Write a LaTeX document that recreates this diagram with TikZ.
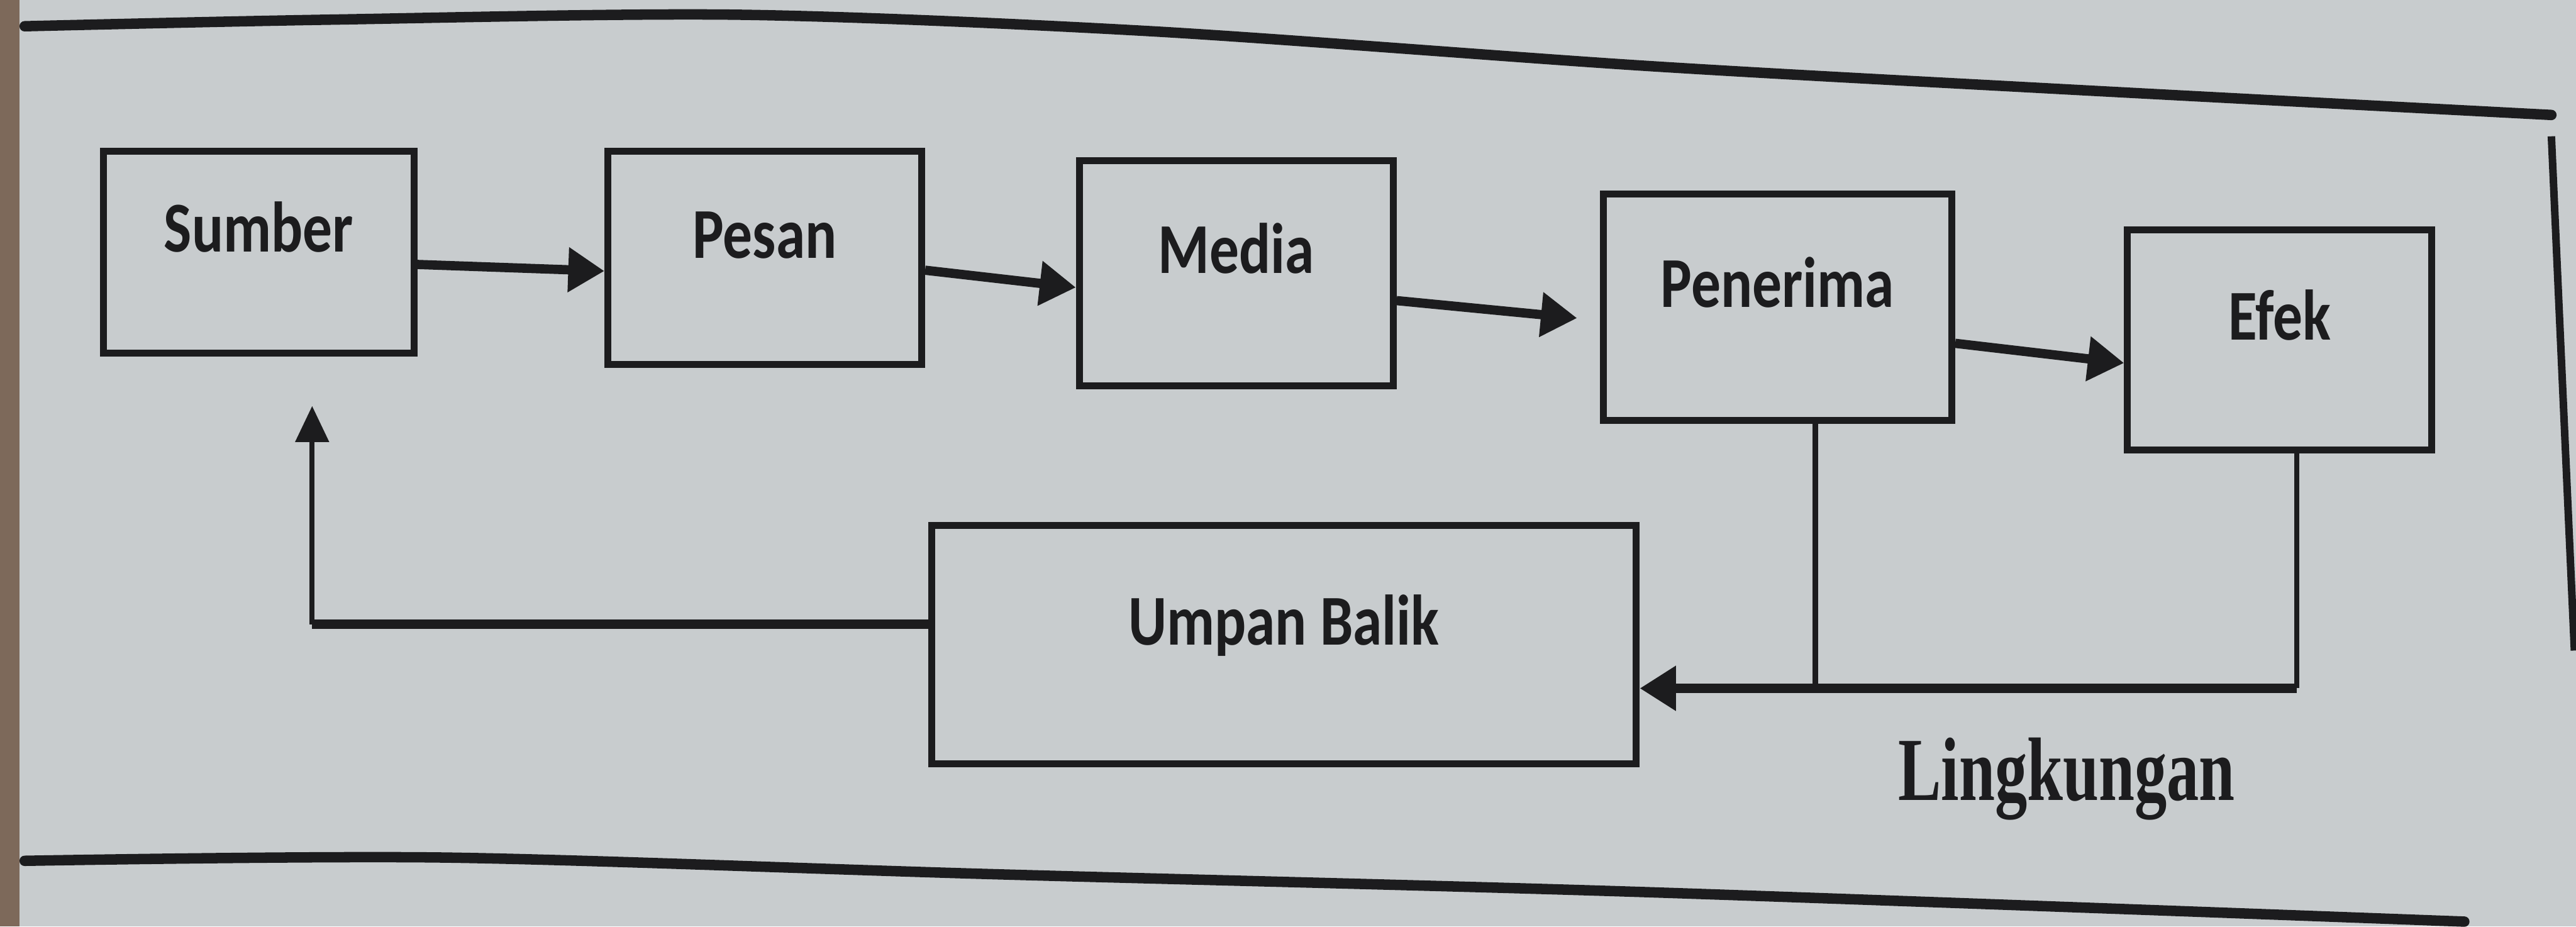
\documentclass[tikz,border=0pt]{standalone}
\usepackage{fontspec}
\setmainfont{Carlito}
\newfontfamily\serifb{Liberation Serif}
\usetikzlibrary{arrows.meta}
\definecolor{paper}{RGB}{200,204,206}
\definecolor{ink}{RGB}{28,28,30}
\definecolor{edgecol}{RGB}{125,105,90}
\newcommand{\tallbox}[1]{\scalebox{0.97}[1.18]{#1}}
\begin{document}
\begin{tikzpicture}[x=1cm,y=1cm,
  box/.style={draw=ink, line width=1.2pt, text=ink,
    font=\fontsize{10.5}{12}\selectfont\bfseries,
    text height=0.3cm, text depth=0.3cm, inner sep=0pt},
  flow/.style={-{Triangle[length=0.22cm,width=0.26cm]}, line width=1.6pt, draw=ink},
  thinline/.style={line width=0.9pt, draw=ink},
  frameline/.style={line width=1.8pt, draw=ink, line cap=round}]
\fill[paper] (0,0) rectangle (15.68,5.64);
\fill[edgecol] (0,0) rectangle (0.12,5.64);
\useasboundingbox (0,0) rectangle (15.68,5.64);

% frame (photographed, slightly curved)
\draw[frameline] plot[smooth] coordinates {(0.15,5.48) (2.0,5.52) (4.5,5.55) (7.0,5.45) (10.0,5.24) (12.5,5.10) (15.53,4.94)};
\draw[frameline] plot[smooth] coordinates {(0.15,0.40) (2.7,0.42) (6.0,0.32) (10.0,0.21) (15.0,0.03)};
\draw[line width=1.3pt, draw=ink] (15.53,4.81) -- (15.67,1.68);

% boxes
\node[box, minimum width=1.89cm, minimum height=1.23cm] (sumber) at (1.575,4.105) {\tallbox{Sumber}};
\node[box, minimum width=1.91cm, minimum height=1.30cm] (pesan) at (4.655,4.07) {\tallbox{Pesan}};
\node[box, minimum width=1.91cm, minimum height=1.37cm] (media) at (7.525,3.975) {\tallbox{Media}};
\node[box, minimum width=2.12cm, minimum height=1.38cm] (penerima) at (10.82,3.77) {\tallbox{Penerima}};
\node[box, minimum width=1.85cm, minimum height=1.34cm] (efek) at (13.875,3.57) {\tallbox{Efek}};
\node[box, minimum width=4.29cm, minimum height=1.45cm] (umpan) at (7.815,1.715) {\tallbox{Umpan Balik}};

\node[text=ink, font=\serifb\fontsize{12}{14}\selectfont\bfseries] (ling) at (12.58,0.90) {\scalebox{0.93}[1.3]{Lingkungan}};

% forward flow
\draw[flow] ([yshift=-0.075cm]sumber.east) -- ([yshift=-0.08cm]pesan.west);
\draw[flow] ([yshift=-0.075cm]pesan.east) -- ([yshift=-0.085cm]media.west);
\draw[flow, shorten >=0.14cm] ([yshift=-0.165cm]media.east) -- ([yshift=-0.08cm]penerima.west);
\draw[flow] ([yshift=-0.22cm]penerima.east) -- ([yshift=-0.14cm]efek.west);

% feedback
\coordinate (fe) at (13.98,1.45);
\coordinate (fp) at (11.05,1.45);
\coordinate (fs) at (1.90,1.84);
\draw[thinline] (efek.south -| fe) -- (fe);
\draw[thinline] (penerima.south -| fp) -- (fp);
\draw[flow] (fe) -- (fe -| umpan.east);
\draw[line width=1.6pt, draw=ink] (umpan.west |- fs) -- (fs);
\draw[-{Triangle[length=0.22cm,width=0.2cm]}, thinline, shorten >=0.3cm] (fs) -- (sumber.south -| fs);
\end{tikzpicture}
\end{document}
